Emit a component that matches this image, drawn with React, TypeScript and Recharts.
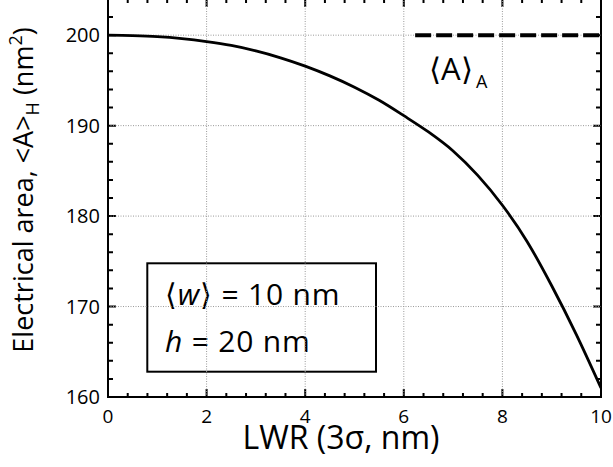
import React from 'react';
import { LineChart, Line, XAxis, YAxis, ReferenceLine, Customized } from 'recharts';

// ---- data ----
const lwr = [0, 0.5, 1, 1.5, 2, 2.5, 3, 3.5, 4, 4.5, 5, 5.5, 6, 6.5, 7, 7.5, 8, 8.5, 9, 9.5, 10];
const area = [200, 199.95, 199.84, 199.62, 199.29, 198.86, 198.26, 197.5, 196.58, 195.5, 194.25, 192.8, 191.1, 189.3, 187.2, 184.5, 181.2, 177.2, 172.3, 166.9, 161.0];
const aaX = [6.23, 10];
const aaY = [200, 200];

const xMajorTicks = [0, 2, 4, 6, 8, 10];
const xMinorTicks = [0.4, 0.8, 1.2, 1.6, 2.4, 2.8, 3.2, 3.6, 4.4, 4.8, 5.2, 5.6, 6.4, 6.8, 7.2, 7.6, 8.4, 8.8, 9.2, 9.6];
const yMajorTicks = [160, 170, 180, 190, 200];
const yMinorTicks = [162, 164, 166, 168, 172, 174, 176, 178, 182, 184, 186, 188, 192, 194, 196, 198, 202];
const xGrid = [2, 4, 6, 8];
const yGrid = [170, 180, 190, 200];

const X_MIN = 0, X_MAX = 10, Y_MIN = 160, Y_MAX = 204;

const data = lwr.map((x, i) => ({ x, y: area[i] }));
const dashData = aaX.map((x, i) => ({ x, y: aaY[i] }));

const FONT = '"Open Sans", sans-serif';
const MARGIN = { top: 0, right: 12, bottom: 0, left: 0 };
const CHART_W = 613, CHART_H = 468, XAXIS_H = 70, YAXIS_W = 108;

const XBottomTick = (props: any) => {
  const { x, y, payload } = props;
  return (
    <text x={x} y={y + 26} textAnchor="middle" fontSize={19} fontFamily={FONT} fill="#000">
      {payload.value}
    </text>
  );
};

const YLeftTick = (props: any) => {
  const { x, y, payload } = props;
  return (
    <text x={x - 8} y={y + 7} textAnchor="end" fontSize={20} fontFamily={FONT} fill="#000">
      {payload.value}
    </text>
  );
};

// plot rectangle implied by the chart size, margins and axis sizes
const PLOT = {
  x: MARGIN.left + YAXIS_W,
  y: MARGIN.top,
  width: CHART_W - MARGIN.left - MARGIN.right - YAXIS_W,
  height: CHART_H - MARGIN.top - MARGIN.bottom - XAXIS_H,
};
const sx = (v: number) => PLOT.x + ((v - X_MIN) / (X_MAX - X_MIN)) * PLOT.width;
const sy = (v: number) => PLOT.y + PLOT.height - ((v - Y_MIN) / (Y_MAX - Y_MIN)) * PLOT.height;

const buildFrame = () => {
  const L = sx(X_MIN), Rr = sx(X_MAX), T = sy(Y_MAX), B = sy(Y_MIN);
  let d = `M${L},${T}H${Rr}V${B}H${L}Z`;
  const addX = (v: number, len: number) => {
    d += `M${sx(v)},${B}V${B - len}M${sx(v)},${T}V${T + len}`;
  };
  const addY = (v: number, len: number) => {
    d += `M${L},${sy(v)}H${L + len}M${Rr},${sy(v)}H${Rr - len}`;
  };
  xMajorTicks.forEach((v) => addX(v, 8));
  xMinorTicks.forEach((v) => addX(v, 4));
  yMajorTicks.forEach((v) => addY(v, 8));
  yMinorTicks.forEach((v) => addY(v, 5));
  return d;
};
const FRAME_D = buildFrame();

const Annotations = () => (
  <g fontFamily={FONT} fill="#000">
    <path d={FRAME_D} stroke="#000" strokeWidth={2} fill="none" />
    <rect x={147.3} y={264.3} width={228.7} height={108.4} fill="#fff" stroke="#000" strokeWidth={2} />
    <text x={165} y={306} fontSize={30} letterSpacing={0.8}>
      ⟨<tspan fontStyle="italic">w</tspan>⟩ = 10 nm
    </text>
    <text x={165} y={352.7} fontSize={30} letterSpacing={0.8}>
      <tspan fontStyle="italic">h</tspan> = 20 nm
    </text>
    <text x={429} y={81} fontSize={31}>⟨A⟩</text>
    <text x={476} y={89} fontSize={18}>A</text>
    <text transform="translate(33, 191) rotate(-90)" textAnchor="middle" fontSize={27}>
      Electrical area, &lt;A&gt;
      <tspan fontSize={18} dy={6}>H</tspan>
      <tspan dy={-6}> (nm</tspan>
      <tspan fontSize={18} dy={-11}>2</tspan>
      <tspan dy={11}>)</tspan>
    </text>
    <text x={341} y={450.3} textAnchor="middle" fontSize={32}>LWR (3σ, nm)</text>
  </g>
);

export default function App() {
  return (
    <div style={{ position: 'absolute', left: 0, top: -1, background: '#fff' }}>
      <LineChart width={CHART_W} height={CHART_H} data={data} margin={MARGIN}>
        <XAxis
          dataKey="x"
          type="number"
          domain={[X_MIN, X_MAX]}
          ticks={xMajorTicks}
          interval={0}
          tickSize={0}
          tickMargin={0}
          tickLine={false}
          height={XAXIS_H}
          axisLine={{ stroke: '#000', strokeWidth: 2 }}
          tick={<XBottomTick />}
          allowDataOverflow
        />
        <YAxis
          type="number"
          domain={[Y_MIN, Y_MAX]}
          ticks={yMajorTicks}
          interval={0}
          tickSize={0}
          tickMargin={0}
          tickLine={false}
          width={YAXIS_W}
          axisLine={{ stroke: '#000', strokeWidth: 2 }}
          tick={<YLeftTick />}
          allowDataOverflow
        />
        {xGrid.map((v) => (
          <ReferenceLine key={'gx' + v} x={v} stroke="#9a9a9a" strokeWidth={1} strokeDasharray="1 1.5" />
        ))}
        {yGrid.map((v) => (
          <ReferenceLine key={'gy' + v} y={v} stroke="#9a9a9a" strokeWidth={1} strokeDasharray="1 1.5" />
        ))}
        <Line
          type="monotone"
          dataKey="y"
          stroke="#000"
          strokeWidth={2.8}
          dot={false}
          activeDot={false}
          isAnimationActive={false}
        />
        <Line
          data={dashData}
          type="linear"
          dataKey="y"
          stroke="#000"
          strokeWidth={4}
          strokeDasharray="16 5"
          dot={false}
          activeDot={false}
          isAnimationActive={false}
        />
        <Customized component={Annotations} />
      </LineChart>
    </div>
  );
}
